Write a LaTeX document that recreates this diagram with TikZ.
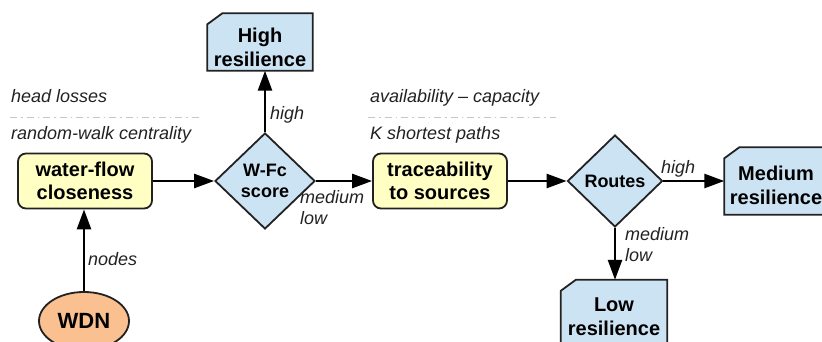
\documentclass[tikz,border=0pt]{standalone}
\usepackage{fontspec}
\setmainfont{Liberation Sans}
\usetikzlibrary{arrows.meta,shapes.geometric,backgrounds,positioning}
\definecolor{procfill}{HTML}{FFFFC4}
\definecolor{testfill}{HTML}{CCE3F3}
\definecolor{srcfill}{HTML}{FAC08F}
\definecolor{linegray}{HTML}{222222}
\begin{document}
\begin{tikzpicture}[x=1pt,y=-1pt,>={Triangle[length=20pt,width=14pt]},
		proc/.style={draw=linegray,line width=1.8pt,fill=procfill,rounded corners=8pt,minimum width=134pt,minimum height=55pt,inner sep=0pt,align=center,font=\fontsize{20}{23}\selectfont\bfseries},
		test/.style={draw=linegray,line width=1.8pt,fill=testfill,diamond,inner sep=0pt,align=center,font=\fontsize{18}{21}\selectfont\bfseries},
		result/.style={inner sep=0pt},
		resulttext/.style={inner sep=0pt,align=center,font=\fontsize{20}{24}\selectfont\bfseries},
		resultbox/.style={draw=linegray,line width=1.8pt,fill=testfill},
		flow/.style={->,line width=2.6pt,black},
		lbl/.style={inner sep=0pt,align=left,text=linegray,font=\fontsize{18}{21}\selectfont\itshape},
		sep/.style={gray!45,line width=1pt,dash pattern=on 7pt off 4pt on 1.5pt off 4pt}]
		\useasboundingbox (0,0) rectangle (822,342);
		
		\node[draw=linegray,line width=1.8pt,fill=srcfill,ellipse,minimum width=90pt,minimum height=58pt,inner sep=0pt,font=\fontsize{22}{24}\selectfont\bfseries] (wdn) at (84,321) {WDN};
		\node[proc] (closeness) at (85,181) {water-flow\\closeness};
		\node[test,minimum width=100pt,minimum height=96pt] (wfc) at (265,181) {W-Fc\\score};
		\node[proc] (trace) at (440,181) {traceability\\to sources};
		\node[test,minimum width=95pt,minimum height=92pt] (routes) at (615,181) {Routes};
		\node[result,minimum width=105pt,minimum height=57pt] (hires) at (260,42) {};
		\node[result,minimum width=105pt,minimum height=67pt] (medres) at (777,181) {};
		\node[result,minimum width=106pt,minimum height=66pt] (lowres) at (614,313) {};
		\begin{scope}[on background layer]
			\foreach \n in {hires,medres,lowres}
			\draw[resultbox] ([xshift=15pt]\n.north west) -- (\n.north east) -- (\n.south east) -- (\n.south west) -- ([yshift=-11pt]\n.north west) -- cycle;
		\end{scope}
		\node[resulttext] (hirestext) at ([yshift=-5pt]hires.center) {High\\resilience};
		\node[resulttext] (medrestext) at ([xshift=-1pt,yshift=-4pt]medres.center) {Medium\\resilience};
		\node[resulttext] (lowrestext) at ([yshift=-4pt]lowres.center) {Low\\resilience};
		
		% method notes
		\node[lbl,anchor=base west] (losses) at (11,103) {head losses};
		\draw[sep] (10,118) -- (200,118);
		\node[lbl,anchor=base west] (walk) at (11,140) {random-walk centrality};
		\node[lbl,anchor=base west] (avail) at (370,103) {availability -- capacity};
		\draw[sep] (368,118) -- (556,118);
		\node[lbl,anchor=base west] (kpaths) at (370,140) {K shortest paths};
		
		\draw[flow] (wdn.north) -- (wdn.north |- closeness.south);
		\draw[flow] (closeness.east) -- (wfc.west);
		\draw[flow] (wfc.north) -- (wfc.north |- hires.south);
		\draw[flow] (wfc.east) -- (trace.west);
		\draw[flow] (trace.east) -- (routes.west);
		\draw[flow] (routes.east) -- (medres.west);
		\draw[flow] (routes.south) -- (routes.south |- lowres.north);
		
		\node[lbl,anchor=base west] (lnodes) at (88,265) {nodes};
		\node[lbl,anchor=base west] (lhigh) at (270,120) {high};
		\node[lbl,anchor=north west] (lmedlow) at (300,190) {medium\\low};
		\node[lbl,anchor=base west] (rhigh) at (661,173) {high};
		\node[lbl,anchor=north west] (rmedlow) at (625,227) {medium\\low};
\end{tikzpicture}
\end{document}
